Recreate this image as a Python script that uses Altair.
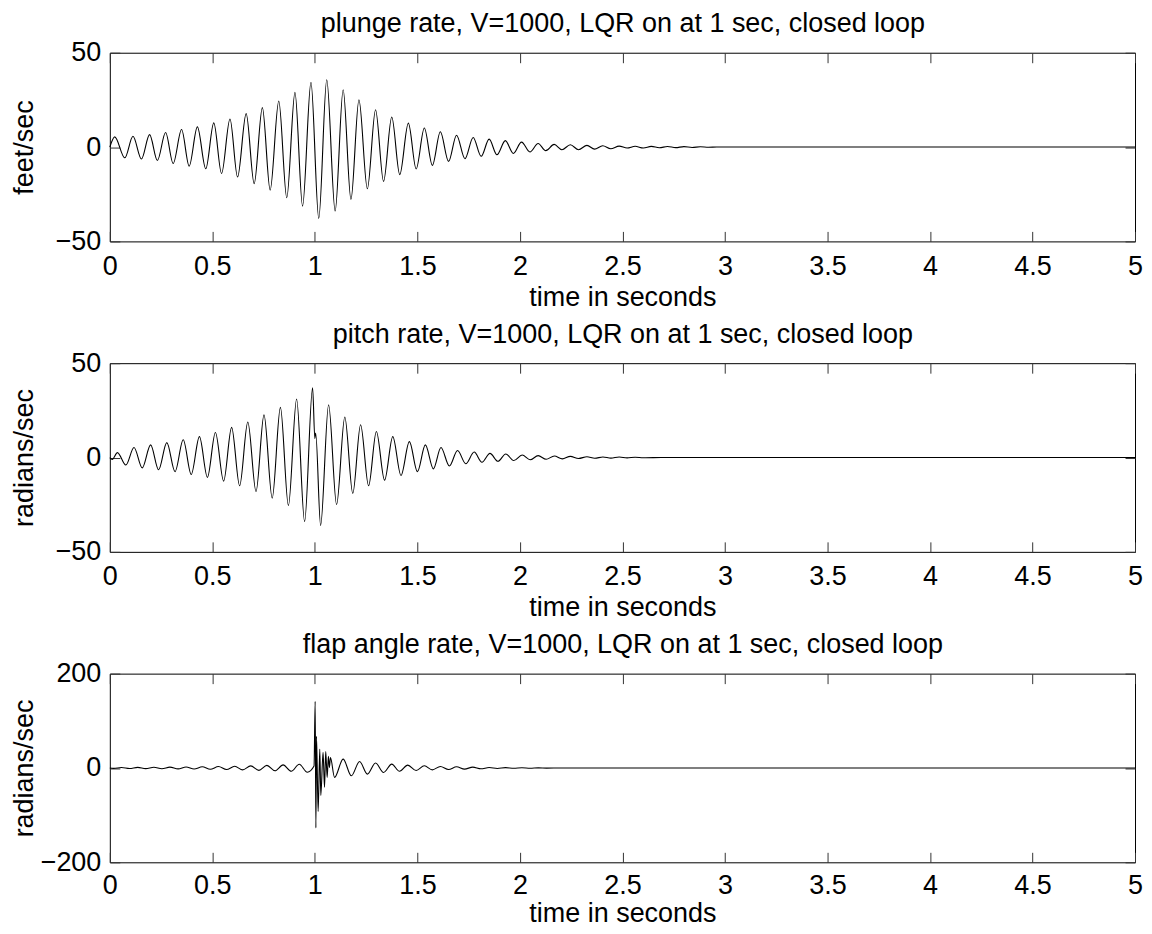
import altair as alt
import pandas as pd

FONT = "Liberation Sans"
FS = 27

# ---------------- panel 1: plunge rate (extrema) ----------------
p1_peak_t = [0.024, 0.113, 0.194, 0.272, 0.350, 0.427, 0.507, 0.586, 0.665, 0.744, 0.824,
             0.903, 0.981, 1.058, 1.138, 1.215, 1.296, 1.375, 1.456, 1.534, 1.612, 1.691,
             1.772, 1.850, 1.929, 2.008, 2.089, 2.167, 2.246, 2.327, 2.404, 2.484, 2.562,
             2.641, 2.720, 2.800, 2.880, 2.960]
p1_peak_v = [5.4, 5.7, 6.6, 7.7, 9.3, 10.7, 12.8, 14.9, 17.7, 20.9, 24.4,
             29.0, 34.3, 35.7, 30.4, 25.1, 19.8, 15.9, 12.7, 10.1, 8.1, 6.3,
             5.1, 4.2, 3.4, 2.6, 1.9, 1.4, 1.2, 0.9, 0.7, 0.5, 0.4,
             0.35, 0.3, 0.25, 0.15, 0.05]
p1_trough_t = [0.073, 0.154, 0.232, 0.309, 0.387, 0.468, 0.545, 0.623, 0.704, 0.782, 0.863,
               0.940, 1.019, 1.099, 1.176, 1.256, 1.335, 1.414, 1.494, 1.573, 1.652, 1.732,
               1.811, 1.888, 1.968, 2.049, 2.126, 2.205, 2.286, 2.364, 2.443, 2.523, 2.602,
               2.680, 2.760, 2.840, 2.920]
p1_trough_v = [-5.7, -6.3, -7.1, -8.7, -10.1, -11.5, -14.0, -15.9, -19.4, -22.8, -26.9,
               -31.3, -37.8, -33.9, -27.8, -22.1, -18.2, -14.6, -11.6, -9.7, -7.6, -6.2,
               -4.9, -4.1, -3.4, -2.6, -1.9, -1.4, -1.4, -1.1, -0.9, -0.5, -0.5,
               -0.35, -0.3, -0.2, -0.1]
p1_extra_t = [0.0, 3.0, 5.0]
p1_extra_v = [0.0, 0.0, 0.0]

# ---------------- panel 2: pitch rate ----------------
p2_peak_t = [0.037, 0.118, 0.199, 0.278, 0.358, 0.437, 0.515, 0.594, 0.673, 0.752, 0.832,
             0.911, 0.989, 1.067, 1.146, 1.223, 1.300, 1.380, 1.461, 1.539, 1.615, 1.696,
             1.777, 1.854, 1.931, 2.011, 2.089, 2.168, 2.246, 2.327, 2.405, 2.484, 2.562]
p2_peak_v = [2.6, 5.3, 6.7, 7.9, 9.4, 11.1, 13.3, 16.0, 18.8, 22.6, 26.6,
             31.0, 37.0, 28.0, 21.5, 17.4, 13.8, 11.1, 8.4, 6.7, 5.3, 3.7,
             2.9, 2.2, 1.9, 1.3, 1.0, 0.8, 0.6, 0.4, 0.3, 0.25, 0.15]
p2_trough_t = [0.078, 0.158, 0.238, 0.318, 0.397, 0.476, 0.555, 0.633, 0.713, 0.792, 0.871,
               0.950, 1.028, 1.106, 1.185, 1.262, 1.340, 1.420, 1.500, 1.578, 1.656, 1.736,
               1.815, 1.893, 1.970, 2.050, 2.128, 2.207, 2.286, 2.365, 2.444, 2.523, 2.602]
p2_trough_v = [-4.0, -5.5, -6.5, -7.5, -9.0, -10.5, -12.5, -15.0, -18.0, -21.5, -25.5,
               -34.0, -36.0, -25.0, -19.0, -15.0, -12.0, -9.5, -7.5, -6.0, -4.5, -3.3,
               -2.5, -2.0, -1.6, -1.2, -0.9, -0.7, -0.5, -0.4, -0.3, -0.2, -0.1]
p2_extra_t = [0.0, 0.012, 1.000, 1.004, 2.700, 5.0]
p2_extra_v = [0.0, -1.0, 10.0, 13.0, 0.0, 0.0]

# ---------------- panel 3: flap angle rate ----------------
p3_peak_t = [0.057, 0.136, 0.215, 0.293, 0.372, 0.451, 0.530, 0.609, 0.687, 0.766, 0.845,
             0.924, 1.0015, 1.008, 1.024, 1.040, 1.053, 1.066, 1.076, 1.138, 1.218, 1.296,
             1.375, 1.453, 1.534, 1.612, 1.691, 1.770, 1.850, 1.930, 2.010, 2.090]
p3_peak_v = [1.0, 1.2, 1.5, 1.8, 2.0, 2.5, 3.0, 3.5, 4.5, 5.5, 6.5,
             8.0, 141.0, 67.0, 40.0, 33.0, 35.0, 25.0, 22.0, 18.7, 13.8, 10.5,
             8.1, 6.0, 4.6, 3.2, 2.5, 1.8, 1.0, 0.7, 0.5, 0.3]
p3_trough_t = [0.018, 0.096, 0.175, 0.254, 0.333, 0.411, 0.490, 0.569, 0.648, 0.727, 0.806,
               0.885, 0.963, 1.005, 1.016, 1.029, 1.047, 1.060, 1.071, 1.096, 1.178, 1.256,
               1.335, 1.413, 1.494, 1.573, 1.652, 1.730, 1.810, 1.890, 1.970, 2.050, 2.130]
p3_trough_v = [-0.8, -1.1, -1.3, -1.6, -1.9, -2.2, -2.7, -3.2, -4.0, -5.0, -6.0,
               -7.0, -9.0, -127.0, -92.0, -58.0, -41.0, -20.0, 1.0, -20.0, -16.6, -13.0,
               -9.5, -7.0, -5.3, -4.0, -3.2, -2.5, -1.8, -1.0, -0.7, -0.5, -0.3]
p3_extra_t = [0.0, 0.996, 2.200, 5.0]
p3_extra_v = [0.0, 4.0, 0.0, 0.0]

x_ticks = [0, 0.5, 1, 1.5, 2, 2.5, 3, 3.5, 4, 4.5, 5]

titles = ["plunge rate, V=1000, LQR on at 1 sec, closed loop",
          "pitch rate, V=1000, LQR on at 1 sec, closed loop",
          "flap angle rate, V=1000, LQR on at 1 sec, closed loop"]
y_titles = ["feet/sec", "radians/sec", "radians/sec"]
y_domains = [[-50, 50], [-50, 50], [-200, 200]]
y_ticks = [[-50, 0, 50], [-50, 0, 50], [-200, 0, 200]]
x_label_pad = [33, 33, 31]
x_title_gap = [64, 64, 59]

W, H = 1027, 189
TICK = 10


def table(pt, pv, tt, tv, et, ev):
    df = pd.DataFrame({"t": list(pt) + list(tt) + list(et),
                       "v": list(pv) + list(tv) + list(ev)})
    return df.sort_values("t").reset_index(drop=True)


def panel(df, title, ytitle, ydom, yt, lpad, xgap):
    xs = alt.Scale(domain=[0, 5], nice=False, zero=False)
    ys = alt.Scale(domain=ydom, nice=False, zero=False)
    common = dict(grid=False, domain=False, tickSize=TICK, tickColor="#333",
                  tickWidth=1, offset=-TICK, labelFont=FONT, labelFontSize=FS,
                  labelColor="black", titleFont=FONT, titleFontSize=FS,
                  titleColor="black", titleFontWeight="normal")
    line = alt.Chart(df).mark_line(color="black", strokeWidth=1.1,
                                   interpolate="monotone").encode(
        x=alt.X("t:Q", scale=xs,
                axis=alt.Axis(orient="bottom", values=x_ticks, format="~g",
                              labelPadding=lpad, labelBaseline="alphabetic",
                              labelFlush=False, labelOverlap=False,
                              title="time in seconds", titleBaseline="alphabetic",
                              titleAlign="center", titleY=xgap + TICK, titleX=W / 2,
                              **common)),
        y=alt.Y("v:Q", scale=ys,
                axis=alt.Axis(orient="left", values=yt, labelPadding=9,
                              labelFlush=False, labelOverlap=False,
                              title=ytitle, titleAngle=-90, titleBaseline="alphabetic",
                              titleX=-87, titleY=H / 2, titleAlign="center", **common)),
    )
    frame = alt.Chart(df).mark_line(opacity=0).encode(
        x=alt.X("t:Q", scale=xs,
                axis=alt.Axis(orient="top", values=x_ticks, labels=False,
                              title=title, titleBaseline="alphabetic", titleAlign="center",
                              titleAngle=0, titleX=W / 2, titleY=-31, **common)),
        y=alt.Y("v:Q", scale=ys,
                axis=alt.Axis(orient="right", values=yt, labels=False, title="", **common)),
    )
    return alt.layer(line, frame).resolve_axis(x="independent", y="independent").properties(
        width=W, height=H)


d1 = table(p1_peak_t, p1_peak_v, p1_trough_t, p1_trough_v, p1_extra_t, p1_extra_v)
d2 = table(p2_peak_t, p2_peak_v, p2_trough_t, p2_trough_v, p2_extra_t, p2_extra_v)
d3 = table(p3_peak_t, p3_peak_v, p3_trough_t, p3_trough_v, p3_extra_t, p3_extra_v)

panels = [panel(d, t, yt, yd, ytk, lp, g) for d, t, yt, yd, ytk, lp, g in
          zip([d1, d2, d3], titles, y_titles, y_domains, y_ticks, x_label_pad, x_title_gap)]

chart = alt.vconcat(*panels, spacing=122, bounds="flush").configure(
    background="white",
    padding={"left": 2, "top": 0, "right": 0, "bottom": 0},
).configure_view(stroke="black", strokeWidth=1)

chart.save("out.html", embed_options={"renderer": "svg", "actions": False})
